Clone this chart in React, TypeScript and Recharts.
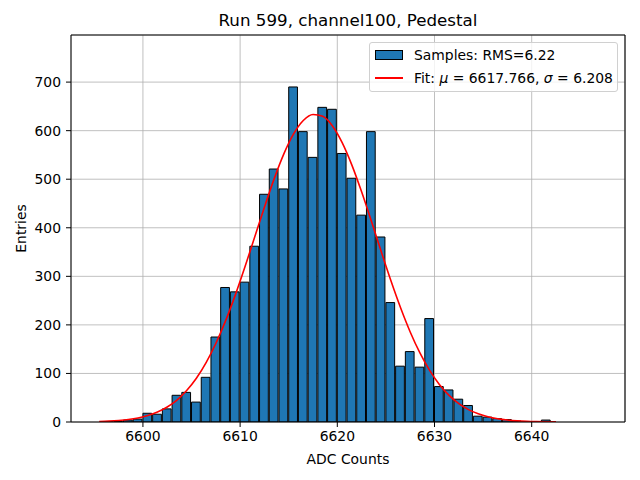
import React from 'react';
import {
  ComposedChart, Bar, Line, XAxis, YAxis, CartesianGrid, Legend, ReferenceLine,
} from 'recharts';

// bin centres (1 ADC count wide bins)
const binCenters = [
  6595.5, 6596.5, 6597.5, 6598.5, 6599.5, 6600.5, 6601.5, 6602.5, 6603.5, 6604.5,
  6605.5, 6606.5, 6607.5, 6608.5, 6609.5, 6610.5, 6611.5, 6612.5, 6613.5, 6614.5,
  6615.5, 6616.5, 6617.5, 6618.5, 6619.5, 6620.5, 6621.5, 6622.5, 6623.5, 6624.5,
  6625.5, 6626.5, 6627.5, 6628.5, 6629.5, 6630.5, 6631.5, 6632.5, 6633.5, 6634.5,
  6635.5, 6636.5, 6637.5, 6638.5, 6639.5, 6640.5, 6641.5, 6642.5,
];

const sampleCounts = [
  0, 1, 1, 4, 6, 18, 16, 27, 55, 61,
  41, 92, 175, 277, 268, 288, 362, 469, 521, 480,
  690, 598, 545, 648, 644, 553, 502, 426, 598, 381,
  246, 115, 145, 113, 213, 73, 66, 47, 34, 12,
  10, 7, 5, 2, 1, 0, 4, 0,
];

// fitted gaussian at each bin centre
const fitValues = [
  1.0, 1.8, 3.1, 5.1, 8.4, 13.3, 20.5, 30.8, 45.2, 64.7,
  90.0, 122.2, 161.6, 208.2, 261.3, 319.6, 381.0, 442.4, 500.7, 552.1,
  593.2, 620.9, 633.4, 629.6, 609.7, 575.4, 529.1, 474.0, 413.8, 352.0,
  291.8, 235.7, 185.4, 142.2, 106.2, 77.3, 54.9, 37.9, 25.5, 16.8,
  10.7, 6.7, 4.1, 2.4, 1.4, 0.8, 0.4, 0.2,
];

const xTicks = [6600, 6610, 6620, 6630, 6640];
const yTicks = [0, 100, 200, 300, 400, 500, 600, 700];

const title = 'Run 599, channel100, Pedestal';
const sampleLabel = 'Samples: RMS=6.22';
const fitMu = '6617.766';
const fitSigma = '6.208';

const data = binCenters.map((x, i) => ({ x, count: sampleCounts[i], fit: fitValues[i] }));

const FONT = '"DejaVu Sans", sans-serif';
const X_DOMAIN = [6592.6, 6649.6];
const Y_DOMAIN = [0, 797];
const PLOT_W = 554;
const BAR_W = PLOT_W / (X_DOMAIN[1] - X_DOMAIN[0]);

const tickStyle = { fontSize: 13.9, fontFamily: FONT, fill: '#000' };

function LegendBox() {
  return (
    <div style={{
      width: 249, height: 50, boxSizing: 'border-box', border: '1px solid #d0d0d0',
      borderRadius: 3, background: 'rgba(255,255,255,0.8)', fontFamily: FONT,
      fontSize: 13.9, color: '#000', paddingLeft: 5, paddingTop: 1,
    }}>
      <div style={{ display: 'flex', alignItems: 'center', height: 22 }}>
        <span style={{ width: 26, height: 8, background: '#1f77b4', border: '1px solid #000', marginRight: 11 }} />
        <span>{sampleLabel}</span>
      </div>
      <div style={{ display: 'flex', alignItems: 'center', height: 23 }}>
        <span style={{ width: 28, height: 2, background: '#ff0000', marginRight: 11 }} />
        <span>Fit: <i>μ</i> = {fitMu}, <i>σ</i> = {fitSigma}</span>
      </div>
    </div>
  );
}

export default function App() {
  return (
    <div style={{ position: 'absolute', left: 0, top: 0, width: 640, height: 480, background: '#fff' }}>
      <div style={{
        position: 'absolute', left: 71, width: 554, top: 10, textAlign: 'center',
        fontFamily: FONT, fontSize: 16.7, color: '#000',
      }}>
        {title}
      </div>
      <ComposedChart width={640} height={480} data={data} margin={{ top: 35, right: 15, bottom: 13, left: 11 }}>
        <XAxis
          dataKey="x" type="number" domain={X_DOMAIN} allowDataOverflow ticks={xTicks}
          height={45} tick={tickStyle} tickSize={5} tickMargin={4}
          axisLine={{ stroke: '#000' }} tickLine={{ stroke: '#000' }}
          label={{ value: 'ADC Counts', position: 'insideBottom', offset: 3, style: { ...tickStyle } }}
        />
        <YAxis
          type="number" domain={Y_DOMAIN} allowDataOverflow ticks={yTicks} width={60}
          tick={tickStyle} tickSize={5} tickMargin={5}
          axisLine={{ stroke: '#000' }} tickLine={{ stroke: '#000' }}
          label={{ value: 'Entries', angle: -90, position: 'insideLeft', offset: 10, style: { ...tickStyle, textAnchor: 'middle' } }}
        />
        <Bar dataKey="count" name={sampleLabel} fill="#1f77b4" stroke="#000" strokeWidth={1} barSize={BAR_W} isAnimationActive={false} />
        <CartesianGrid stroke="#b0b0b0" strokeWidth={0.8} />
        <Line dataKey="fit" name="Fit" type="monotone" stroke="#ff0000" strokeWidth={1.6} dot={false} isAnimationActive={false} />
        {/* top and right spines */}
        <ReferenceLine y={Y_DOMAIN[1]} stroke="#000" strokeWidth={1.1} ifOverflow="visible" />
        <ReferenceLine x={X_DOMAIN[1]} stroke="#000" strokeWidth={1.1} ifOverflow="visible" />
        <Legend
          layout="horizontal" verticalAlign="middle" align="center"
          content={() => <LegendBox />}
          wrapperStyle={{ top: 42, left: 369, width: 249, height: 50 }}
        />
      </ComposedChart>
    </div>
  );
}
